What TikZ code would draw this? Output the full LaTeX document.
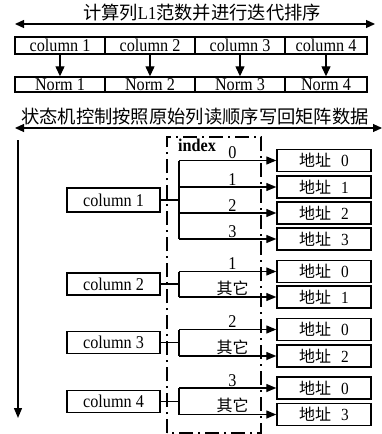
\documentclass[tikz,border=0pt]{standalone}
\usepackage{fontspec}
\setmainfont[FakeStretch=0.9]{Liberation Serif}
\newfontfamily\cjk{Noto Sans CJK SC}
\usetikzlibrary{arrows.meta}

\begin{document}
\begin{tikzpicture}[x=1pt,y=-1pt,
  lat/.style={font=\fontsize{18}{18}\selectfont},
  box/.style={draw, line width=1.4pt, inner sep=0pt, lat},
  topbox/.style={box, minimum height=17pt},
  normbox/.style={box, minimum height=15pt},
  colbox/.style={box, minimum width=93pt, minimum height=22pt},
  addrbox/.style={box, minimum width=94pt, minimum height=22pt,
    font=\fontsize{17}{17}\selectfont},
  title/.style={font=\cjk\fontsize{18.3}{18.3}\selectfont, inner sep=0pt},
  tip/.style={-{Triangle[length=10pt,width=8pt]}},
  conn/.style={line width=1.3pt},
  branch/.style={conn, tip},
  lbl/.style={inner sep=1pt, lat},
  other/.style={inner sep=1pt, font=\cjk\fontsize{16}{16}\selectfont},
  frame/.style={line width=1.3pt, dash pattern=on 14pt off 5pt on 2pt off 5pt}
]
\useasboundingbox (0,0) rectangle (382,434);

% --- norm computation stage ---
\node[title] (t1) at (202,13) {计算列{\rmfamily L1}范数并进行迭代排序};
\coordinate (t1l) at (15,24);
\coordinate (t1r) at (375,24);
\draw[conn, {Triangle[length=9pt,width=8pt]}-{Triangle[length=9pt,width=8pt]}] (t1l) -- (t1r);

\node[topbox, minimum width=90pt] (c1) at (60,45.5) {column 1};
\node[topbox, minimum width=90pt] (c2) at (150,45.5) {column 2};
\node[topbox, minimum width=90pt] (c3) at (240,45.5) {column 3};
\node[topbox, minimum width=82pt] (c4) at (326,45.5) {column 4};

\node[normbox, minimum width=90pt] (n1) at (60,84.5) {Norm 1};
\node[normbox, minimum width=90pt] (n2) at (150,84.5) {Norm 2};
\node[normbox, minimum width=90pt] (n3) at (240,84.5) {Norm 3};
\node[normbox, minimum width=82pt] (n4) at (326,84.5) {Norm 4};

\foreach \i in {1,...,4}
  \draw[conn, -{Triangle[length=10pt,width=9pt]}] (c\i.south) -- (n\i.north);

% --- write-back stage ---
\node[title] (t2) at (195,117) {状态机控制按照原始列读顺序写回矩阵数据};
\coordinate (t2l) at (15,128);
\coordinate (t2r) at (382,128);
\draw[line width=1.1pt, {Triangle[length=9pt,width=8pt]}-{Triangle[length=9pt,width=8pt]}] (t2l) -- (t2r);

\coordinate (vt) at (18,140);
\coordinate (vb) at (18,418);
\draw[conn, tip] (vt) -- (vb);

% index selector frame
\draw[frame] (167,433) -- (167,137) -- (261,137) -- (261,433) -- cycle;
\node[font=\bfseries\fontsize{18}{18}\selectfont, inner sep=0pt] (idx) at (197,145) {index};

% column boxes
\node[colbox, minimum height=24pt] (k1) at (113.5,200) {column 1};
\node[colbox] (k2) at (113.5,284) {column 2};
\node[colbox] (k3) at (113.5,342.5) {column 3};
\node[colbox] (k4) at (113.5,401.5) {column 4};

% address boxes
\node[addrbox] (a10) at (324,160.5) {{\cjk\fontsize{16}{16}\selectfont 地址}\hspace{10pt}0};
\node[addrbox] (a11) at (324,187)   {{\cjk\fontsize{16}{16}\selectfont 地址}\hspace{10pt}1};
\node[addrbox] (a12) at (324,213)   {{\cjk\fontsize{16}{16}\selectfont 地址}\hspace{10pt}2};
\node[addrbox] (a13) at (324,239)   {{\cjk\fontsize{16}{16}\selectfont 地址}\hspace{10pt}3};
\node[addrbox] (a20) at (324,271.5) {{\cjk\fontsize{16}{16}\selectfont 地址}\hspace{10pt}0};
\node[addrbox] (a21) at (324,297)   {{\cjk\fontsize{16}{16}\selectfont 地址}\hspace{10pt}1};
\node[addrbox] (a30) at (324,329.5) {{\cjk\fontsize{16}{16}\selectfont 地址}\hspace{10pt}0};
\node[addrbox] (a32) at (324,356)   {{\cjk\fontsize{16}{16}\selectfont 地址}\hspace{10pt}2};
\node[addrbox] (a40) at (324,388)   {{\cjk\fontsize{16}{16}\selectfont 地址}\hspace{10pt}0};
\node[addrbox] (a43) at (324,414.5) {{\cjk\fontsize{16}{16}\selectfont 地址}\hspace{10pt}3};

% branch points
\coordinate (b1) at (179,200);
\coordinate (b2) at (179,284);
\coordinate (b3) at (179,342.5);
\coordinate (b4) at (179,401.5);

% column 1: all four indices
\draw[conn] (k1.east) -- (b1);
\draw[conn] (b1 |- a10) -- (b1 |- a13);
\draw[branch] (b1 |- a10) -- node[lbl, above, pos=0.55] {0} (a10.west);
\draw[branch] (b1 |- a11) -- node[lbl, above, pos=0.55] {1} (a11.west);
\draw[branch] (b1 |- a12) -- node[lbl, above, pos=0.55] {2} (a12.west);
\draw[branch] (b1 |- a13) -- node[lbl, above, pos=0.55] {3} (a13.west);

% column 2
\draw[conn] (k2.east) -- (b2);
\draw[conn] (b2 |- a20) -- (b2 |- a21);
\draw[branch] (b2 |- a20) -- node[lbl, above, pos=0.55] {1} (a20.west);
\draw[branch] (b2 |- a21) -- node[other, above, pos=0.55] {其它} (a21.west);

% column 3
\draw[conn] (k3.east) -- (b3);
\draw[conn] (b3 |- a30) -- (b3 |- a32);
\draw[branch] (b3 |- a30) -- node[lbl, above, pos=0.55] {2} (a30.west);
\draw[branch] (b3 |- a32) -- node[other, above, pos=0.55] {其它} (a32.west);

% column 4
\draw[conn] (k4.east) -- (b4);
\draw[conn] (b4 |- a40) -- (b4 |- a43);
\draw[branch] (b4 |- a40) -- node[lbl, above, pos=0.55] {3} (a40.west);
\draw[branch] (b4 |- a43) -- node[other, above, pos=0.55] {其它} (a43.west);
\end{tikzpicture}
\end{document}
